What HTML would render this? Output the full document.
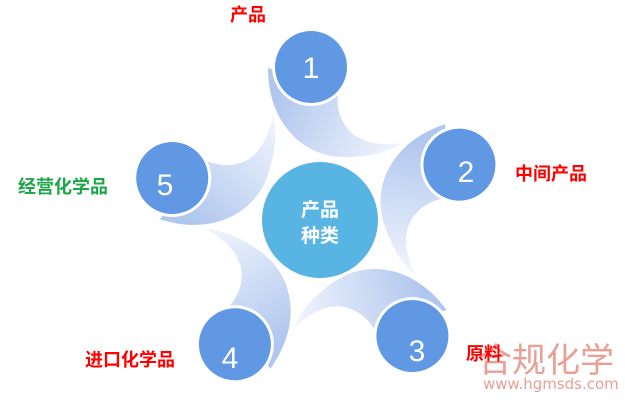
<!DOCTYPE html>
<html><head><meta charset="utf-8"><style>
body{margin:0;width:625px;height:402px;background:#fff;overflow:hidden;position:relative;font-family:"Liberation Sans","Noto Sans CJK SC",sans-serif}
.l{position:absolute;font-weight:bold;font-size:18px;color:#f00;white-space:nowrap}
</style></head><body>
<svg width="625" height="402" style="position:absolute;left:0;top:0">
<defs>
<linearGradient id="g" gradientUnits="userSpaceOnUse" x1="275" y1="95" x2="400" y2="150">
<stop offset="0" stop-color="#b0c6ee"/><stop offset="1" stop-color="#f2f6fd"/></linearGradient>
<g id="t"><path d="M268,68 C268,120 300,157 345,157 C375,157 395,149 402,143 C375,147 356,140 347,128 C338,116 337,105 338,92 Z" fill="url(#g)"/>
<circle cx="311" cy="67" r="39" fill="#fff"/><circle cx="311" cy="67" r="36" fill="#6198e4"/></g>
</defs>
<use href="#t"/>
<use href="#t" transform="rotate(72 318 218)"/>
<use href="#t" transform="rotate(144 318 218)"/>
<use href="#t" transform="rotate(216 318 218)"/>
<use href="#t" transform="rotate(288 318 218)"/>
<circle cx="320" cy="220" r="58" fill="#58b4e2"/>
<g fill="#fff" font-family="Liberation Sans,sans-serif" font-size="30" text-anchor="middle">
<text x="311" y="78">1</text><text x="466" y="182">2</text><text x="417" y="361">3</text><text x="230" y="368">4</text><text x="165" y="195">5</text></g>
<g fill="#fff" font-weight="bold" font-size="19" text-anchor="middle" font-family="Noto Sans CJK SC,sans-serif">
<text x="320" y="216">产品</text><text x="320" y="242">种类</text></g>
<g fill="#e8a095" font-family="Noto Sans CJK SC,sans-serif"><text x="478" y="372" font-size="34">合规化学</text>
<text x="483" y="389" font-size="15" font-family="DejaVu Sans,sans-serif">www.hgmsds.com</text></g>
</svg>
<div class="l" style="left:230px;top:1px">产品</div>
<div class="l" style="left:515px;top:160px">中间产品</div>
<div class="l" style="left:466px;top:340px">原料</div>
<div class="l" style="left:85px;top:346px">进口化学品</div>
<div class="l" style="left:18px;top:173px;color:#1fa54a">经营化学品</div>
</body></html>
